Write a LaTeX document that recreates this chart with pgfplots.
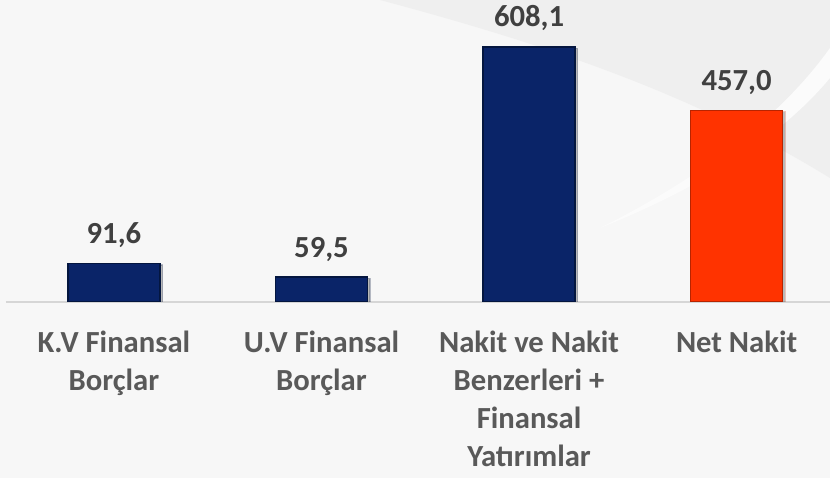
\documentclass[border=0pt]{standalone}
\usepackage{pgfplots}
\pgfplotsset{compat=1.18}
\usepackage{fontspec}
\setmainfont{Carlito}
\definecolor{navy}{HTML}{0A2468}
\definecolor{navyedge}{HTML}{04163F}
\definecolor{redbar}{HTML}{FF3300}
\definecolor{rededge}{HTML}{B82400}
\definecolor{valtxt}{HTML}{404040}
\definecolor{cattxt}{HTML}{595959}
\definecolor{bg}{HTML}{F7F7F7}
\definecolor{bgdark}{HTML}{EFEFEF}
\definecolor{baseln}{HTML}{D6D6D6}

\begin{document}
\begin{tikzpicture}[x=0.75pt,y=0.75pt]
% background, 830 x 478 px (1px = 0.75pt)
\useasboundingbox (0,0) rectangle (830,478);
\fill[bg] (0,0) rectangle (830,478);
\fill[bgdark] (380,478) .. controls (560,430) and (700,380) .. (830,300) -- (830,478) -- cycle;
\fill[white!50!bg] (600,250) .. controls (700,300) and (780,360) .. (830,430)
    -- (830,400) .. controls (780,340) and (700,290) .. (600,250) -- cycle;

\begin{axis}[
    at={(4.5pt,132pt)}, anchor=south west,
    scale only axis,
    width=618pt, height=226.5pt,
    xmin=-0.52, xmax=3.45,
    ymin=0, ymax=720,
    axis y line=none,
    axis x line=bottom,
    x axis line style={baseln, line width=1.5pt, -},
    xtick={0,1,2,3},
    major tick length=0pt,
    xticklabels={
        {K.V Finansal\\Borçlar},
        {U.V Finansal\\Borçlar},
        {Nakit ve Nakit\\Benzerleri +\\Finansal\\Yatırımlar},
        {Net Nakit}},
    xticklabel style={align=center, anchor=north, inner sep=0pt, yshift=-21.5pt,
        font=\fontsize{23}{28.5}\selectfont\bfseries, text=cattxt},
    ybar, bar width=69pt, bar shift=0pt,
    nodes near coords,
    every node near coord/.append style={anchor=base, inner sep=0pt, yshift=15pt,
        font=\fontsize{23}{28}\selectfont\bfseries, text=valtxt},
    /pgf/number format/.cd, fixed, fixed zerofill, precision=1, use comma,
        assume math mode=true,
]
\addplot[fill=navy, draw=navyedge, line width=1pt,
    preaction={fill=black, opacity=0.25, transform canvas={xshift=2pt, yshift=-1pt}}]
    coordinates {(0,91.6) (1,59.5) (2,608.1)};
\addplot[fill=redbar, draw=rededge, line width=1pt,
    preaction={fill=black, opacity=0.25, transform canvas={xshift=2pt, yshift=-1pt}}]
    coordinates {(3,457.0)};
\end{axis}
\end{tikzpicture}
\end{document}
